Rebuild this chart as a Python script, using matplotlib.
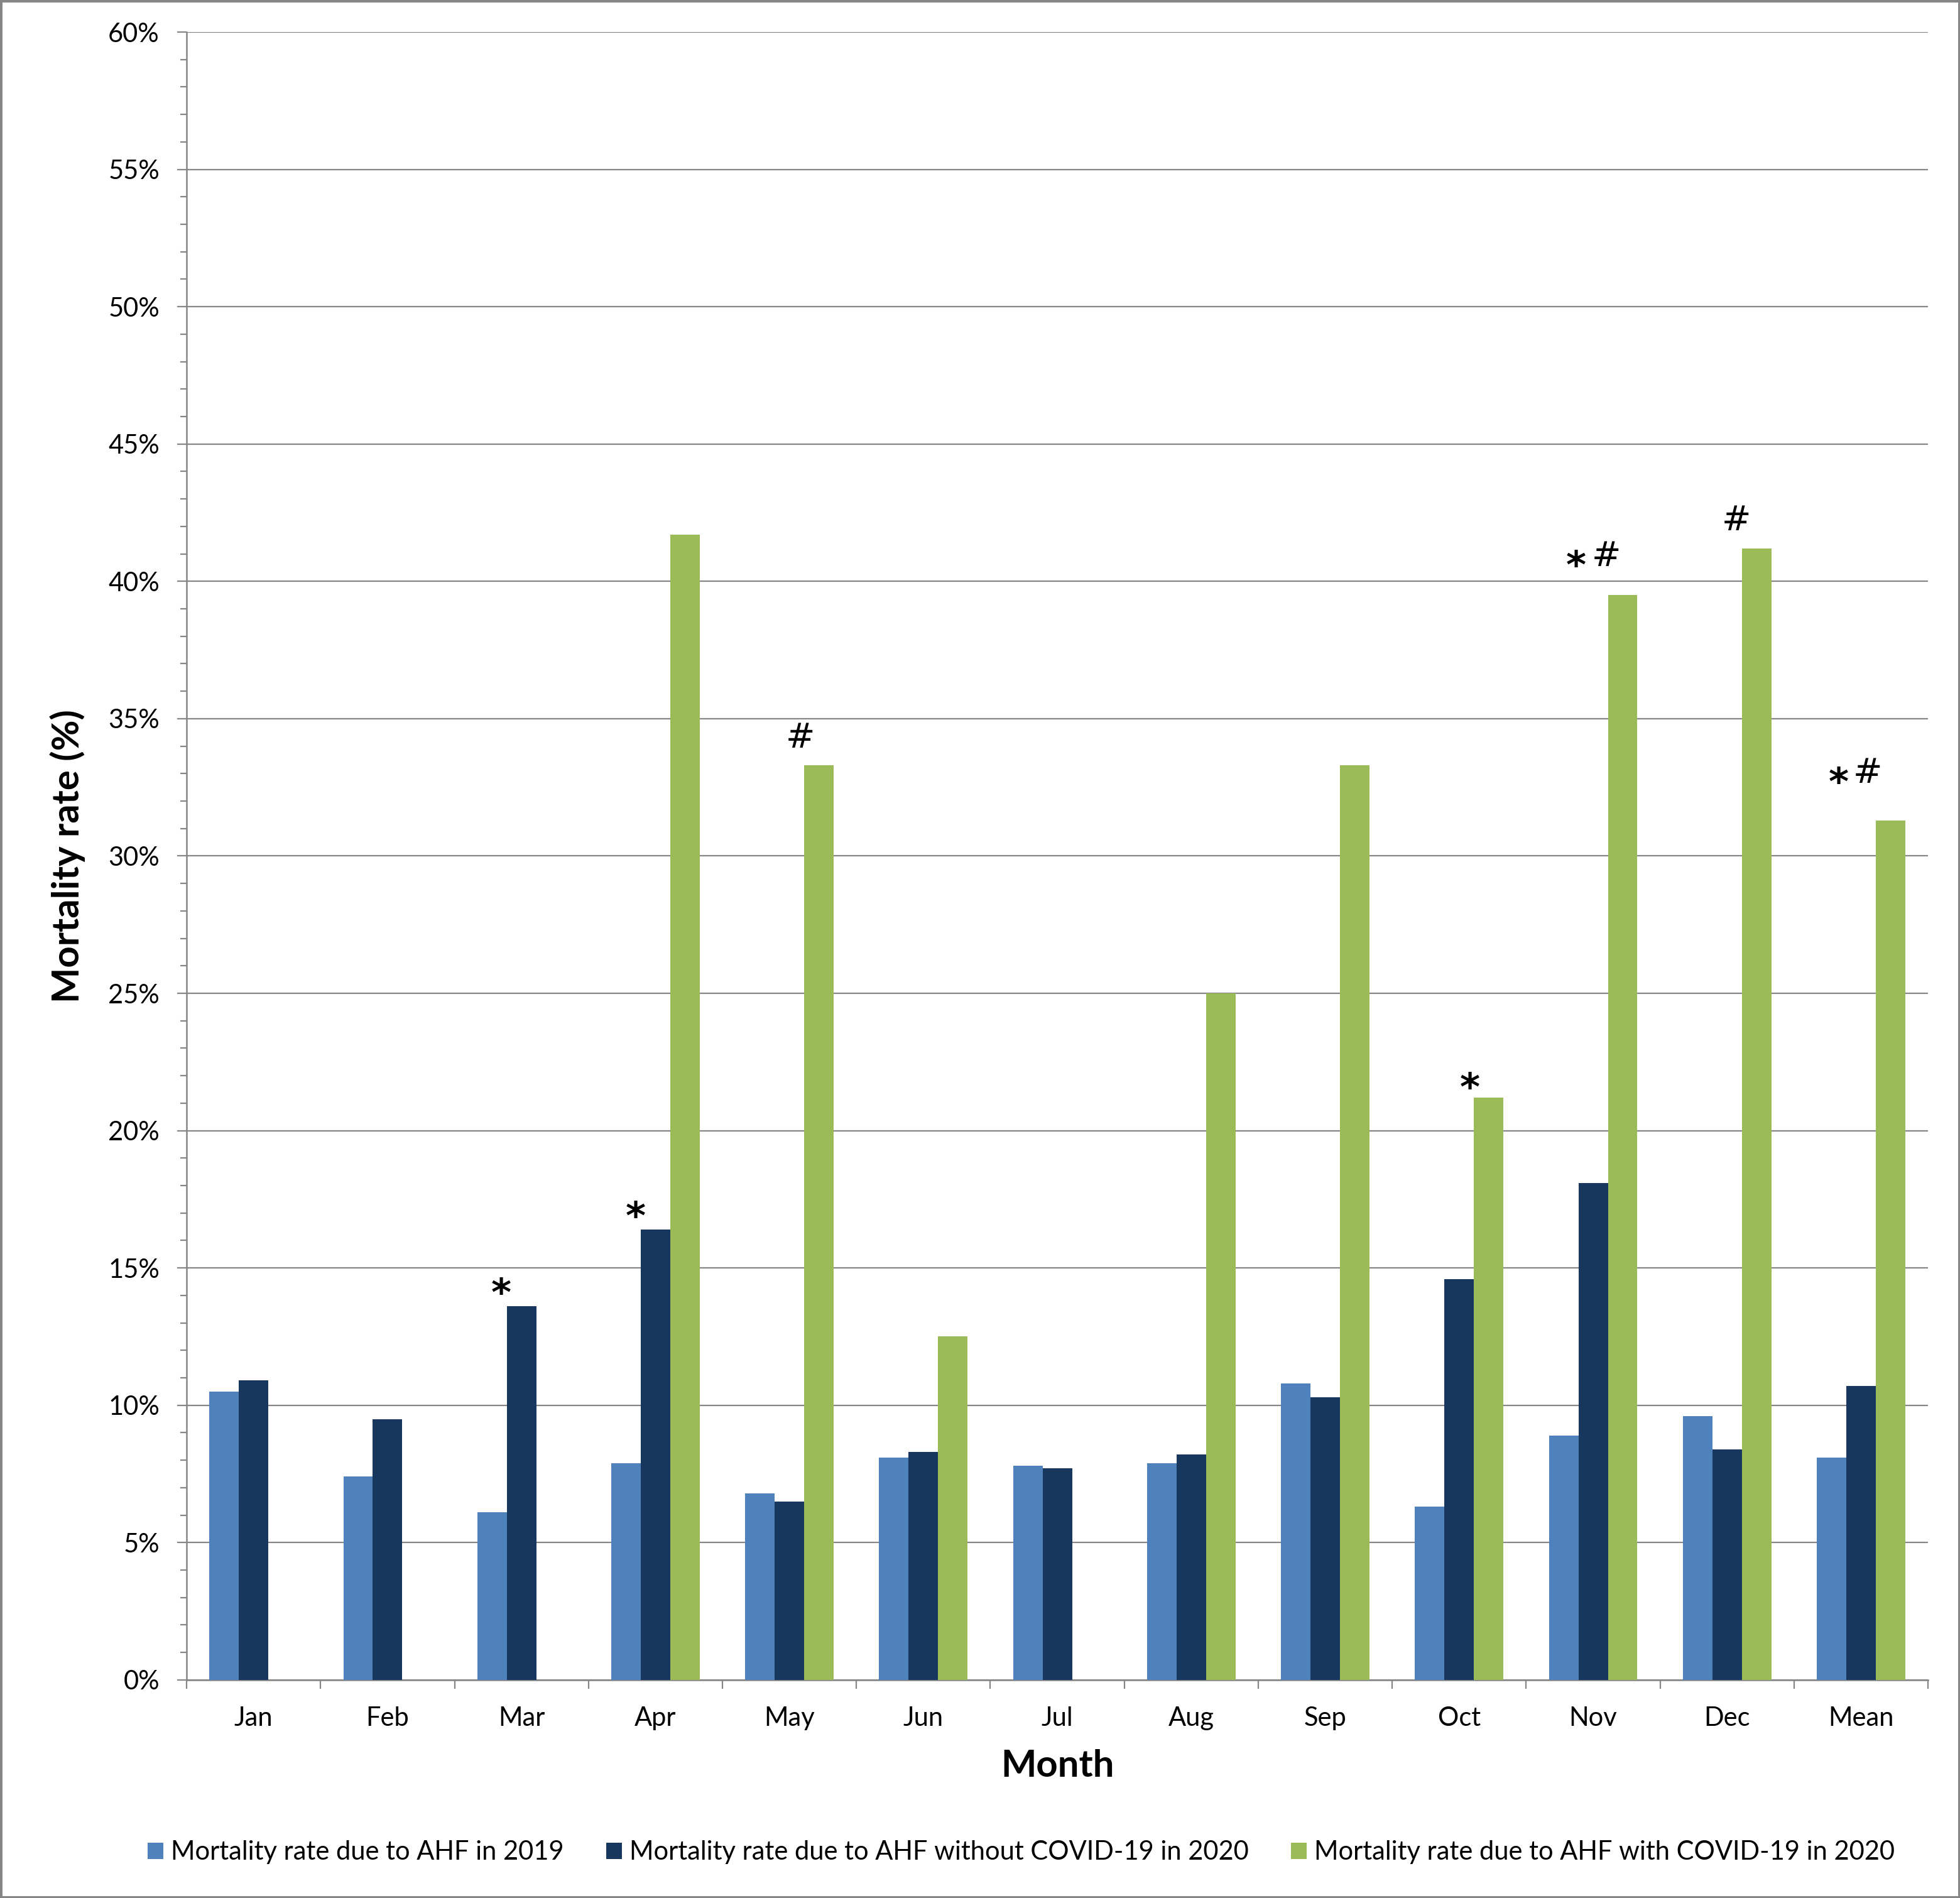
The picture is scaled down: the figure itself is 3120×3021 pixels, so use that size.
import matplotlib.pyplot as plt
import matplotlib.patches as mpatches
from matplotlib.ticker import MultipleLocator, FuncFormatter
import numpy as np

plt.rcParams['font.family'] = ['Lato', 'DejaVu Sans']

# Data (%)
months = ['Jan', 'Feb', 'Mar', 'Apr', 'May', 'Jun', 'Jul', 'Aug', 'Sep',
          'Oct', 'Nov', 'Dec', 'Mean']
rate_2019 = [10.5, 7.4, 6.1, 7.9, 6.8, 8.1, 7.8, 7.9, 10.8, 6.3, 8.9, 9.6, 8.1]
rate_2020_no_covid = [10.9, 9.5, 13.6, 16.4, 6.5, 8.3, 7.7, 8.2, 10.3, 14.6,
                      18.1, 8.4, 10.7]
rate_2020_covid = [0, 0, 0, 41.7, 33.3, 12.5, 0, 25.0, 33.3, 21.2, 39.5,
                   41.2, 31.3]

labels = ['Mortality rate due to AHF in 2019',
          'Mortality rate due to AHF without COVID-19 in 2020',
          'Mortality rate due to AHF with COVID-19 in 2020']
colors = ['#4F81BD', '#17375E', '#9BBB59']

# significance markers: (symbol, x in category units, y in %)
marks = [('*', 1.85, 14.0), ('*', 2.85, 16.8), ('#', 4.08, 34.3),
         ('*', 9.08, 21.5), ('*', 9.87, 40.5), ('#', 10.10, 40.9),
         ('#', 11.07, 42.2), ('*', 11.83, 32.6), ('#', 12.05, 33.0)]

fig = plt.figure(figsize=(31.2, 30.21), dpi=100)
ax = fig.add_axes([0.0952, 0.1149, 0.8885, 0.8682])

x = np.arange(len(months))
w = 0.22
series = [rate_2019, rate_2020_no_covid, rate_2020_covid]
for k, (vals, col, lab) in enumerate(zip(series, colors, labels)):
    ax.bar(x + (k - 1) * w, vals, width=w, color=col, label=lab,
           zorder=3, linewidth=0)

for sym, mx, my in marks:
    if sym == '*':
        ax.text(mx, my, sym, ha='center', va='center', fontsize=44,
                family='DejaVu Sans', fontweight='bold', zorder=4)
    else:
        ax.text(mx, my, sym, ha='center', va='center', fontsize=40,
                family='DejaVu Sans', zorder=4)

grey = '#868686'
ax.set_xlim(-0.5, len(months) - 0.5)
ax.set_ylim(0, 60)
ax.yaxis.set_major_locator(MultipleLocator(5))
ax.yaxis.set_minor_locator(MultipleLocator(1))
ax.yaxis.set_major_formatter(FuncFormatter(lambda v, p: '%d%%' % v))
ax.grid(axis='y', which='major', color=grey, linewidth=1.6, zorder=0)

ax.set_xticks(np.arange(-0.5, len(months), 1.0))
ax.set_xticklabels([])
ax.set_xticks(x, minor=True)
ax.set_xticklabels(months, minor=True)

ax.tick_params(axis='y', which='major', length=11, width=1.6, color=grey,
               labelsize=30, pad=20)
ax.tick_params(axis='y', which='minor', length=7, width=1.6, color=grey)
ax.tick_params(axis='x', which='major', length=10, width=1.6, color=grey)
ax.tick_params(axis='x', which='minor', length=0, labelsize=30, pad=30)

for s in ['top', 'right']:
    ax.spines[s].set_visible(False)
for s in ['left', 'bottom']:
    ax.spines[s].set_color(grey)
    ax.spines[s].set_linewidth(1.8)

ax.set_ylabel('Mortality rate (%)', fontsize=43, fontweight='bold',
              labelpad=26)
ax.set_xlabel('Month', fontsize=43, fontweight='bold', labelpad=22)

ax.legend(loc='center', bbox_to_anchor=(0.521, 0.024),
          bbox_transform=fig.transFigure, ncol=3, frameon=False,
          fontsize=30, handlelength=0.6, handleheight=0.6,
          handletextpad=0.3, columnspacing=1.6)

fig.patches.append(mpatches.Rectangle((0, 0), 1, 1, transform=fig.transFigure,
                                      fill=False, edgecolor=grey,
                                      linewidth=5))

fig.savefig('out.png', dpi=100)
